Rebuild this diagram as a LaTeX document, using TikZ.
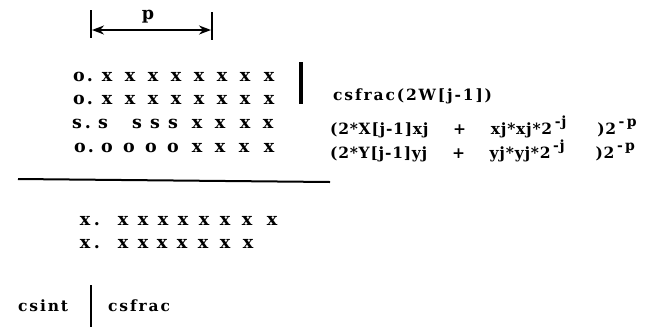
\documentclass[tikz,border=0pt]{standalone}
\usepackage{fontspec}
\setmainfont{DejaVu Serif}
\newfontfamily\spacedfont[LetterSpace=12]{DejaVu Serif}
\newfontfamily\eqfont[LetterSpace=5]{DejaVu Serif}
\usetikzlibrary{arrows.meta}
\newcommand{\sscript}[1]{\raisebox{8pt}{\fontsize{14}{16}\selectfont #1}}
\begin{document}
\begin{tikzpicture}[x=1pt,y=-1pt,
  glyph/.style={inner sep=0pt,anchor=base,font=\bfseries\fontsize{17.5}{20}\selectfont},
  label/.style={inner sep=0pt,anchor=base west,font=\spacedfont\bfseries\fontsize{15.5}{18}\selectfont},
  eq/.style={inner sep=0pt,anchor=base west,font=\eqfont\bfseries\fontsize{15.5}{18}\selectfont},
  rule/.style={line width=2pt},
  bar/.style={line width=3.5pt},
  tick/.style={line width=2.2pt}]
\useasboundingbox (0,0) rectangle (655,327);

% width marker p
\coordinate (tl0) at (91,10);  \coordinate (tl1) at (91,38);
\coordinate (tr0) at (212,12); \coordinate (tr1) at (212,40);
\draw[tick] (tl0) -- (tl1);
\draw[tick] (tr0) -- (tr1);
\coordinate (al) at (92,30); \coordinate (ar) at (211,30);
\draw[line width=1.8pt,{Stealth[length=12pt,width=9pt]}-{Stealth[length=12pt,width=9pt]}] (al) -- (ar);
\node[glyph] (plabel) at (148,19) {p};

% operand rows
\foreach \x/\c [count=\i] in {79/o,90/.,107/x,130/x,153/x,176/x,199/x,222/x,245/x,269/x}
  \node[glyph] (ra\i) at (\x,81) {\c};
\foreach \x/\c [count=\i] in {79/o,90/.,107/x,130/x,153/x,176/x,199/x,222/x,245/x,269/x}
  \node[glyph] (rb\i) at (\x,104) {\c};
\foreach \x/\c [count=\i] in {77/s,88/.,103/s,137/s,155/s,173/s,197/x,220/x,245/x,268/x}
  \node[glyph] (rc\i) at (\x,128) {\c};
\foreach \x/\c [count=\i] in {80/o,91/.,107/o,129/o,151/o,173/o,197/x,220/x,244/x,269/x}
  \node[glyph] (rd\i) at (\x,152) {\c};

% separator bar and term labels
\coordinate (b0) at (301,62); \coordinate (b1) at (301,104);
\draw[bar] (b0) -- (b1);
\node[label] (wterm) at (333,100) {csfrac(2W[j-1])};
\node[eq] (xterm) at (330,134) {(2*X[j-1]xj\ \ \ \ +\ \ \ \ xj*xj*2\,\sscript{-j}\ \ \ \ \ )2\,\sscript{-\,p}};
\node[eq] (yterm) at (330,158) {(2*Y[j-1]yj\ \ \ \ +\ \ \ \ yj*yj*2\,\sscript{-j}\ \ \ \ \ )2\,\sscript{-\,p}};

% sum line
\coordinate (s0) at (18,179); \coordinate (s1) at (330,182);
\draw[rule] (s0) -- (s1);

% result rows
\foreach \x/\c [count=\i] in {85/x,97/.,123/x,143/x,163/x,183/x,204/x,225/x,247/x,272/x}
  \node[glyph] (re\i) at (\x,225) {\c};
\foreach \x/\c [count=\i] in {85/x,97/.,123/x,143/x,162/x,182/x,203/x,225/x,248/x}
  \node[glyph] (rf\i) at (\x,248) {\c};

% integer / fraction split
\node[label] (csint) at (18,311) {csint};
\coordinate (c0) at (91,285); \coordinate (c1) at (91,327);
\draw[line width=2.6pt] (c0) -- (c1);
\node[label] (csfrac) at (108,311) {csfrac};
\end{tikzpicture}
\end{document}
